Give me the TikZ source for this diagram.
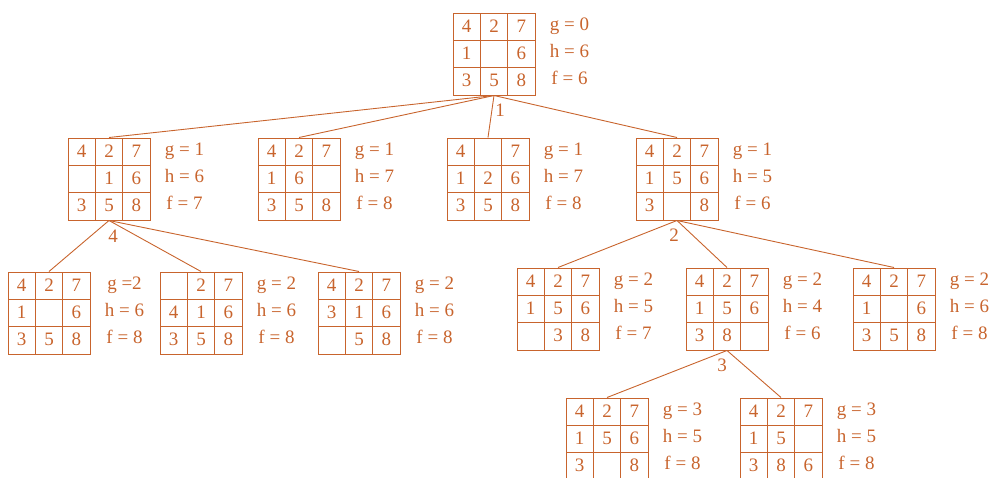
\documentclass[tikz,border=0pt]{standalone}
\usepackage{fontspec}
\setmainfont{Liberation Serif}
\usepackage{xcolor}
\usepackage{tikz}
\usetikzlibrary{positioning, calc}
\definecolor{pzorange}{RGB}{200,100,45}

% one puzzle state: name, centre, cells, score lines
\newcommand{\puzstate}[4]{%
  \node[board] (#1) at #2 {};
  \foreach \v [count=\i from 0] in {#3} {
    \pgfmathtruncatemacro\cc{mod(\i,3)}
    \pgfmathtruncatemacro\rr{\i/3}
    \node[cell] (#1-\i) at ($(#1)+({(\cc-1)*82/3},{(\rr-1)*82/3})$) {\v};
  }
  \node[score] (#1-s) at ($(#1.north east)+(34,5)$) {#4};
}

\begin{document}
\begin{tikzpicture}[
  x=1pt, y=-1pt,
  every node/.style={font=\fontsize{19}{27}\selectfont, text=pzorange},
  board/.style={draw=pzorange, line width=1pt, minimum size=82pt, inner sep=0pt},
  cell/.style={draw=pzorange, line width=0.8pt, minimum size=82pt/3,
               inner sep=0pt, text height=11pt, text depth=0pt},
  score/.style={anchor=north, align=center, inner sep=0pt},
  edge/.style={draw=pzorange, line width=0.9pt},
  lbl/.style={inner sep=0pt},
]
\useasboundingbox (0,0) rectangle (991,477);

% Root
\puzstate{root}{(494,54)}{4,2,7,1,{},6,3,5,8}{g = 0\\h = 6\\f = 6}

% ── First level ──
\puzstate{a1}{(109,179)}{4,2,7,{},1,6,3,5,8}{g = 1\\h = 6\\f = 7}
\puzstate{a2}{(299,179)}{4,2,7,1,6,{},3,5,8}{g = 1\\h = 7\\f = 8}
\puzstate{a3}{(488,179)}{4,{},7,1,2,6,3,5,8}{g = 1\\h = 7\\f = 8}
\puzstate{a4}{(677,179)}{4,2,7,1,5,6,3,{},8}{g = 1\\h = 5\\f = 6}

% ── Second level ──
\puzstate{b1}{(49,313)}{4,2,7,1,{},6,3,5,8}{g =2\\h = 6\\f = 8}
\puzstate{b2}{(201,313)}{{},2,7,4,1,6,3,5,8}{g = 2\\h = 6\\f = 8}
\puzstate{b3}{(359,313)}{4,2,7,3,1,6,{},5,8}{g = 2\\h = 6\\f = 8}
\puzstate{c1}{(558,309)}{4,2,7,1,5,6,{},3,8}{g = 2\\h = 5\\f = 7}
\puzstate{c2}{(727,309)}{4,2,7,1,5,6,3,8,{}}{g = 2\\h = 4\\f = 6}
\puzstate{c3}{(894,309)}{4,2,7,1,{},6,3,5,8}{g = 2\\h = 6\\f = 8}

% ── Third level ──
\puzstate{d1}{(607,439)}{4,2,7,1,5,6,3,{},8}{g = 3\\h = 5\\f = 8}
\puzstate{d2}{(781,439)}{4,2,7,1,5,{},3,8,6}{g = 3\\h = 5\\f = 8}

% ── Edges ──
\foreach \ch in {a1,a2,a3,a4} \draw[edge] (root.south) -- (\ch.north);
\foreach \ch in {b1,b2,b3} \draw[edge] (a1.south) -- (\ch.north);
\foreach \ch in {c1,c2,c3} \draw[edge] (a4.south) -- (\ch.north);
\foreach \ch in {d1,d2} \draw[edge] (c2.south) -- (\ch.north);

% Step labels
\node[lbl] (l1) at ($(root.south)+(6,15)$) {1};
\node[lbl] (l4) at ($(a1.south)+(4,16)$) {4};
\node[lbl] (l2) at ($(a4.south)+(-3,15)$) {2};
\node[lbl] (l3) at ($(c2.south)+(-5,15)$) {3};

\end{tikzpicture}
\end{document}
